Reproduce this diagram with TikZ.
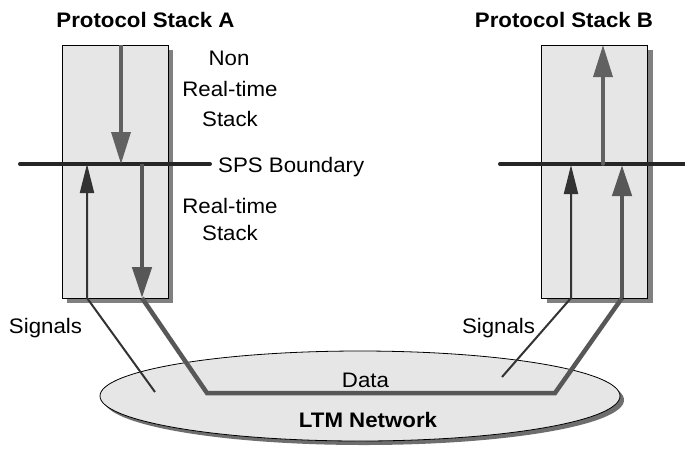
\documentclass[tikz,border=0pt]{standalone}
\usepackage{fontspec}
\setmainfont{Liberation Sans}[FakeStretch=1.06]
\usetikzlibrary{arrows.meta,shadows,shapes.geometric}
\definecolor{boxfill}{HTML}{E6E6E6}
\definecolor{shadowgray}{HTML}{808080}
\definecolor{ellshadow}{HTML}{6E6E6E}
\definecolor{arrgray}{HTML}{616161}
\definecolor{thickgray}{HTML}{575757}
\definecolor{darkline}{HTML}{333333}
\definecolor{boundary}{HTML}{262626}
\begin{document}
\begin{tikzpicture}[x=1pt,y=-1pt,
  stackbox/.style={draw=black, line width=0.8pt, fill=boxfill, minimum width=106pt,
    minimum height=253pt, inner sep=0pt,
    drop shadow={shadow xshift=5pt, shadow yshift=-5pt, fill=shadowgray, opacity=1}},
  netshape/.style={ellipse, draw=black, line width=0.8pt, fill=boxfill, minimum width=520pt,
    minimum height=90pt, inner sep=0pt,
    drop shadow={shadow xshift=4pt, shadow yshift=-4pt, fill=ellshadow, opacity=1}},
  lbl/.style={font=\fontsize{21}{25}\selectfont, inner sep=0pt, anchor=base},
  ttl/.style={font=\bfseries\fontsize{21}{25}\selectfont, inner sep=0pt, anchor=base},
  bndline/.style={draw=boundary, line width=4pt, line cap=round},
  grayarrow/.style={draw=arrgray, line width=3.5pt, -{Triangle[length=32pt,width=19pt]}},
  thickarrow/.style={draw=thickgray, line width=4.5pt, -{Triangle[length=31pt,width=19pt]}},
  thinarrow/.style={draw=darkline, line width=2pt, -{Triangle[length=29pt,width=14pt]}},
  thickline/.style={draw=thickgray, line width=4.5pt},
  thinline/.style={draw=darkline, line width=2pt}
]
\useasboundingbox (0,0) rectangle (685,448);

% network
\node[netshape] (net) at (360,396) {};

% stacks
\node[stackbox] (boxA) at (115,171.5) {};
\node[stackbox] (boxB) at (594.5,171.5) {};

% titles
\node[ttl] (titleA) at (145.5,27.5) {Protocol Stack A};
\node[ttl] (titleB) at (564,27.5) {Protocol Stack B};

% labels
\node[lbl] (non) at (229,65) {Non};
\node[lbl] (rt1) at (230,96.7) {Real-time};
\node[lbl] (st1) at (230,126.7) {Stack};
\node[lbl, anchor=base west] (sps) at (218,172) {SPS Boundary};
\node[lbl] (rt2) at (230,213.3) {Real-time};
\node[lbl] (st2) at (230,240) {Stack};
\node[lbl] (sigA) at (45.5,333) {Signals};
\node[lbl] (sigB) at (498.5,333) {Signals};
\node[lbl] (data) at (365.5,387) {Data};
\node[ttl] (ltm) at (368,427) {LTM Network};

% coordinates
\coordinate (bA1) at (20,164);
\coordinate (bA2) at (210,164);
\coordinate (bB1) at (500,164);
\coordinate (bB2) at (686,164);

\coordinate (aTop) at (121,45);
\coordinate (aMid) at (121,164);
\coordinate (aThinTip) at (87,164);
\coordinate (aThinBot) at (87,298);
\coordinate (aThinEnd) at (155,392);
\coordinate (aThickTop) at (142,164);
\coordinate (aThickBot) at (142,298);
\coordinate (dL) at (207,393);
\coordinate (dR) at (555,393);
\coordinate (bThickBot) at (622,298);
\coordinate (bThickTip) at (622,165);
\coordinate (bThinEnd) at (502,377);
\coordinate (bThinBot) at (571,298);
\coordinate (bThinTip) at (571,165);
\coordinate (bMid) at (603,164);
\coordinate (bTop) at (603,45);

% boundary lines
\draw[bndline] (bA1) -- (bA2);
\draw[bndline] (bB1) -- (bB2);

% stack A
\draw[grayarrow] (aTop) -- (aMid);
\draw[thinarrow] (aThinEnd) -- (aThinBot) -- (aThinTip);
\draw[thickarrow] (aThickTop) -- (aThickBot);
\draw[thickline] (aThickBot) -- (dL) -- (dR) -- (bThickBot);

% stack B
\draw[grayarrow, line cap=round] (bMid) -- (bTop);
\draw[thinarrow] (bThinEnd) -- (bThinBot) -- (bThinTip);
\draw[thickarrow] (bThickBot) -- (bThickTip);
\end{tikzpicture}
\end{document}
